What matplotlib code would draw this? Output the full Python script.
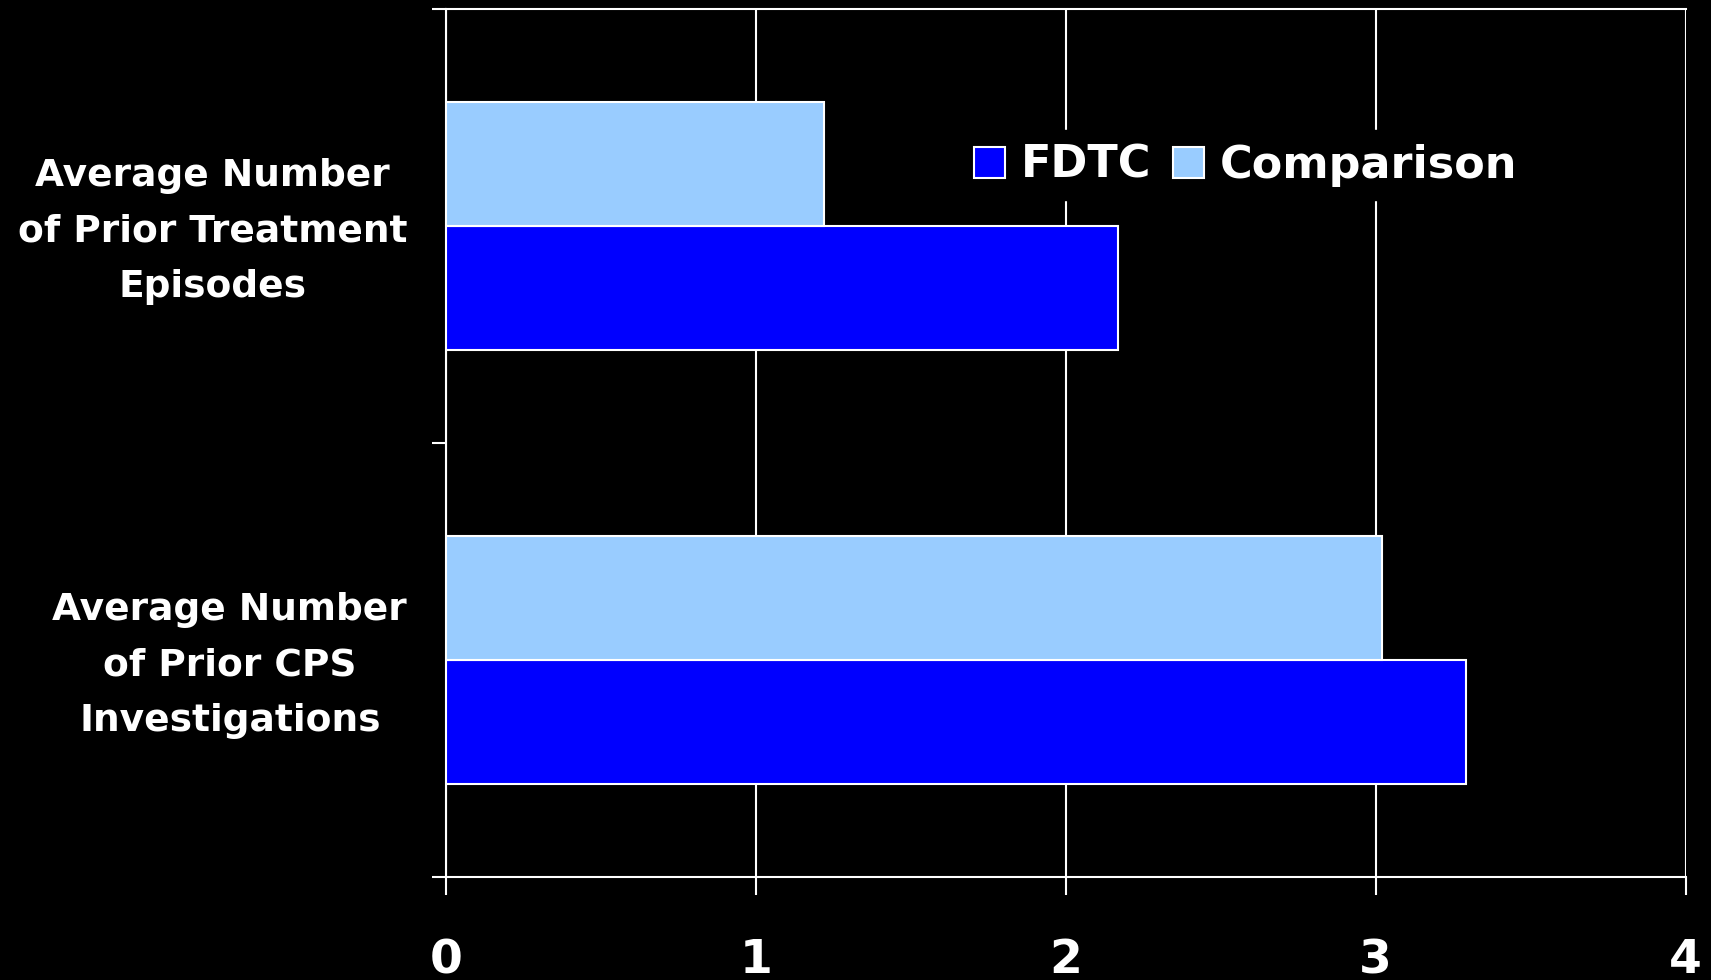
import matplotlib
matplotlib.use('Agg')
import matplotlib.pyplot as plt
import numpy as np

# chart data (categories listed bottom to top)
categories = ["Average Number\nof Prior CPS\nInvestigations",
              "Average Number\nof Prior Treatment\nEpisodes"]
fdtc = [3.29, 2.17]
comparison = [3.02, 1.22]
x_ticks = [0, 1, 2, 3, 4]

plt.rcParams['font.family'] = ['DejaVu Sans']
plt.rcParams['font.weight'] = 'bold'

fig = plt.figure(figsize=(17.11, 9.8), dpi=100, facecolor='black')
ax = fig.add_axes([0.2607, 0.1051, 0.7244, 0.8857], facecolor='black')

bar_h = 1 / 3.5
pos = np.arange(len(categories)) + 0.5
ax.barh(pos - bar_h / 2, fdtc, height=bar_h, color='#0000FF',
        edgecolor='white', linewidth=1.5, label='FDTC', zorder=3)
ax.barh(pos + bar_h / 2, comparison, height=bar_h, color='#99CCFF',
        edgecolor='white', linewidth=1.5, label='Comparison', zorder=3)

ax.set_xlim(0, 4)
ax.set_ylim(0, len(categories))
ax.set_xticks(x_ticks)
ax.set_xticklabels([str(t) for t in x_ticks])
ax.set_yticks(np.arange(len(categories) + 1))
ax.set_yticklabels([])
# labels sit a touch above the group centre, like the original
ax.set_yticks(pos + 0.02, minor=True)
ax.set_yticklabels(categories, minor=True, ha='right', multialignment='center',
                   linespacing=1.7)

ax.grid(axis='x', color='white', linewidth=1.5, zorder=1)
for s in ax.spines.values():
    s.set_color('white')
    s.set_linewidth(1.5)
ax.spines['right'].set_visible(False)

ax.tick_params(axis='x', colors='white', labelsize=34, length=13, width=1.5,
               pad=31, direction='out')
ax.tick_params(axis='y', which='major', colors='white', length=10, width=1.5)
ax.tick_params(axis='y', which='minor', colors='white', labelsize=27,
               length=0, pad=28)

leg = ax.legend(loc='center left', bbox_to_anchor=(0.4155, 0.82), ncol=2,
                frameon=True, facecolor='black', edgecolor='black', framealpha=1,
                fontsize=32, handlelength=0.7, handleheight=0.7,
                handletextpad=0.34, columnspacing=0.5, borderpad=0.3,
                borderaxespad=0)
leg.set_zorder(4)
for t in leg.get_texts():
    t.set_color('white')

fig.savefig('out.png', dpi=100, facecolor='black')
